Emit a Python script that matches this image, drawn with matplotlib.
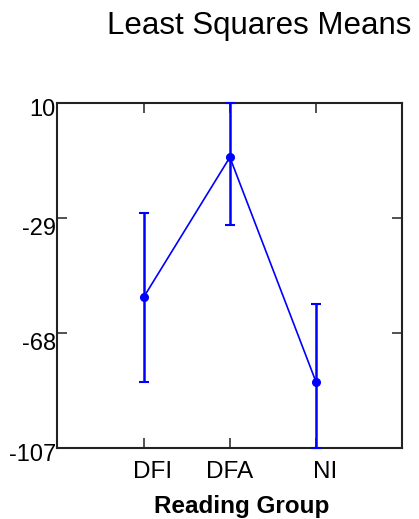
import matplotlib
matplotlib.use("Agg")
import matplotlib.pyplot as plt
from matplotlib.transforms import ScaledTranslation

plt.rcParams["font.family"] = ["Liberation Sans", "DejaVu Sans"]

# Least squares means with confidence limits per reading group
groups = ["DFI", "DFA", "NI"]
means = [-55.9, -8.4, -84.7]
lower = [-84.5, -31.4, -107.0]
upper = [-27.4, 10.0, -58.1]
y_ticks = [10, -29, -68, -107]

fig = plt.figure(figsize=(4.19, 5.19), dpi=100)
ax = fig.add_axes([0.1368, 0.1368, 0.8236, 0.6647])

x = list(range(1, len(groups) + 1))
err_lo = [m - lo for m, lo in zip(means, lower)]
err_hi = [hi - m for m, hi in zip(means, upper)]

ax.errorbar(x, means, yerr=[err_lo, err_hi], fmt="none", ecolor="#0000ff",
            elinewidth=1.8, capsize=3.4, capthick=1.5, clip_on=False, zorder=3)
ax.plot(x, means, color="#0000ff", lw=1.2, marker="o", ms=5.5, zorder=4)

ax.set_xlim(0, len(groups) + 1)
ax.set_ylim(min(y_ticks), max(y_ticks))
ax.set_xticks(x)
ax.set_xticklabels(groups, fontsize=17.5)
ax.set_yticks(y_ticks)
ax.set_yticklabels([str(t) for t in y_ticks], fontsize=17)

ax.tick_params(axis="both", direction="in", length=7.5, width=1.2, color="#333333",
               top=True, right=True)
ax.tick_params(axis="y", pad=1)
ax.tick_params(axis="x", pad=9)

ylabels = ax.get_yticklabels()
for lab in ylabels[1:-1]:
    lab.set_va("top")
shift_down = ScaledTranslation(0, -3 / 72, fig.dpi_scale_trans)
for lab in (ylabels[0], ylabels[-1]):
    lab.set_transform(lab.get_transform() + shift_down)

xlabels = ax.get_xticklabels()
shift_right = ScaledTranslation(6.5 / 72, 0, fig.dpi_scale_trans)
for lab in (xlabels[0], xlabels[-1]):
    lab.set_transform(lab.get_transform() + shift_right)

for sp in ax.spines.values():
    sp.set_linewidth(1.5)
    sp.set_color("#222222")

ax.set_xlabel("Reading Group", fontsize=17.5, fontweight="bold", labelpad=9)
ax.xaxis.label.set_x(0.535)
fig.text(0.618, 0.934, "Least Squares Means", fontsize=22.5, ha="center", va="baseline")

fig.savefig("out.png", dpi=100)
